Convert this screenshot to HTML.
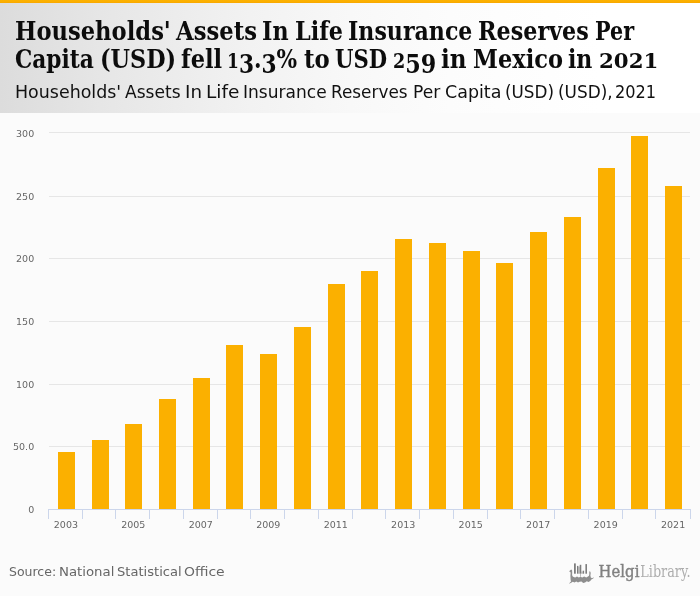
<!DOCTYPE html>
<html lang="en">
<head>
<meta charset="utf-8">
<title>Households' Assets In Life Insurance Reserves Per Capita (USD) - Mexico</title>
<style>
html,body{margin:0;padding:0;}
body{width:700px;height:596px;overflow:hidden;background:#fbfbfb;position:relative;font-family:"DejaVu Sans","Liberation Sans",sans-serif;}
.topbar{position:absolute;left:0;top:0;width:700px;height:3px;background:linear-gradient(#fcb100 0,#fbaf00 1.6px,#f8a600 3px);}
.header{position:absolute;left:0;top:3px;width:700px;height:110px;background:linear-gradient(90deg,#dcdcdc 0px,#e1e1e1 50px,#e6e6e6 100px,#eaeaea 150px,#eeeeee 200px,#f2f2f2 250px,#f5f5f5 300px,#f8f8f8 350px,#fafafa 400px,#fcfcfc 450px,#fdfdfd 500px,#fefefe 550px,#ffffff 600px,#ffffff 650px);}
.ln{position:absolute;left:0;margin:0;width:700px;white-space:nowrap;font-weight:normal;}
.ln span{position:absolute;top:0;transform-origin:0 0;white-space:pre;}
.title{font-family:"DejaVu Serif Condensed","DejaVu Serif","Liberation Serif",serif;font-weight:bold;font-size:26px;line-height:30px;height:30px;color:#0c0c0c;}
.title i{font-style:normal;}
.title i.o{font-size:0.79em;}
.title i.d{position:relative;top:0.177em;}
.t1{top:16px;}
.t2{top:44px;}
.subtitle{top:81px;font-size:17.3px;line-height:22px;height:22px;color:#111;}
.chart{position:absolute;left:0;top:0;}
.source{top:563px;font-size:13px;line-height:18px;height:18px;color:#666;}
.logo{position:absolute;left:560px;top:555px;width:140px;height:41px;}
</style>
</head>
<body>
<div class="header"></div>
<div class="topbar"></div>
<h1 class="ln title t1" id="t1"><span style="left:14.81px;transform:scaleX(0.9681)">Households'</span> <span style="left:176.32px;transform:scaleX(0.9709)">Assets</span> <span style="left:262.33px;transform:scaleX(0.9486)">In</span> <span style="left:294.92px;transform:scaleX(0.9558)">Life</span> <span style="left:347.74px;transform:scaleX(0.9443)">Insurance</span> <span style="left:477.83px;transform:scaleX(0.9523)">Reserves</span> <span style="left:595.20px;transform:scaleX(0.8855)">Per</span></h1>
<h1 class="ln title t2" id="t2"><span style="left:14.77px;transform:scaleX(0.9283)">Capita</span> <span style="left:99.55px;transform:scaleX(0.9555)">(USD)</span> <span style="left:181.38px;transform:scaleX(0.9644)">fell</span> <span style="left:226.82px;transform:scaleX(0.9260)"><i class="o">1</i><i class="d">3</i>.<i class="d">3</i>%</span> <span style="left:303.71px;transform:scaleX(0.9760)">to</span> <span style="left:335.32px;transform:scaleX(0.9056)">USD</span> <span style="left:393.31px;transform:scaleX(0.9525)"><i class="o">2</i><i class="d">59</i></span> <span style="left:441.26px;transform:scaleX(0.9868)">in</span> <span style="left:472.74px;transform:scaleX(0.9628)">Mexico</span> <span style="left:568.39px;transform:scaleX(0.9421)">in</span> <span style="left:598.76px;transform:scaleX(1.1535)"><i class="o">2021</i></span></h1>
<h2 class="ln subtitle" id="sub"><span style="left:14.83px;transform:scaleX(1.0091)">Households'</span> <span style="left:125.28px;transform:scaleX(0.9882)">Assets</span> <span style="left:185.15px;transform:scaleX(1.0563)">In</span> <span style="left:205.72px;transform:scaleX(1.0737)">Life</span> <span style="left:243.27px;transform:scaleX(0.9863)">Insurance</span> <span style="left:331.29px;transform:scaleX(0.9753)">Reserves</span> <span style="left:412.57px;transform:scaleX(0.9903)">Per</span> <span style="left:444.59px;transform:scaleX(1.0103)">Capita</span> <span style="left:505.44px;transform:scaleX(0.9731)">(USD)</span> <span style="left:557.53px;transform:scaleX(0.9782)">(USD),</span> <span style="left:615.23px;transform:scaleX(0.9337)">2021</span></h2>
<svg class="chart" width="700" height="596" viewBox="0 0 700 596">
<g shape-rendering="crispEdges">
<rect x="49" y="132" width="641" height="1" fill="#e6e6e6"/>
<rect x="49" y="196" width="641" height="1" fill="#e6e6e6"/>
<rect x="49" y="258" width="641" height="1" fill="#e6e6e6"/>
<rect x="49" y="321" width="641" height="1" fill="#e6e6e6"/>
<rect x="49" y="384" width="641" height="1" fill="#e6e6e6"/>
<rect x="49" y="446" width="641" height="1" fill="#e6e6e6"/>
<rect x="58" y="452" width="17" height="57" fill="#fbb000"/>
<rect x="92" y="440" width="17" height="69" fill="#fbb000"/>
<rect x="125" y="424" width="17" height="85" fill="#fbb000"/>
<rect x="159" y="399" width="17" height="110" fill="#fbb000"/>
<rect x="193" y="378" width="17" height="131" fill="#fbb000"/>
<rect x="226" y="345" width="17" height="164" fill="#fbb000"/>
<rect x="260" y="354" width="17" height="155" fill="#fbb000"/>
<rect x="294" y="327" width="17" height="182" fill="#fbb000"/>
<rect x="328" y="284" width="17" height="225" fill="#fbb000"/>
<rect x="361" y="271" width="17" height="238" fill="#fbb000"/>
<rect x="395" y="239" width="17" height="270" fill="#fbb000"/>
<rect x="429" y="243" width="17" height="266" fill="#fbb000"/>
<rect x="463" y="251" width="17" height="258" fill="#fbb000"/>
<rect x="496" y="263" width="17" height="246" fill="#fbb000"/>
<rect x="530" y="232" width="17" height="277" fill="#fbb000"/>
<rect x="564" y="217" width="17" height="292" fill="#fbb000"/>
<rect x="598" y="168" width="17" height="341" fill="#fbb000"/>
<rect x="631" y="136" width="17" height="373" fill="#fbb000"/>
<rect x="665" y="186" width="17" height="323" fill="#fbb000"/>
<rect x="48" y="509" width="643" height="1" fill="#ccd6eb"/>
<rect x="48" y="509" width="1" height="10" fill="#ccd6eb"/>
<rect x="82" y="509" width="1" height="10" fill="#ccd6eb"/>
<rect x="115" y="509" width="1" height="10" fill="#ccd6eb"/>
<rect x="149" y="509" width="1" height="10" fill="#ccd6eb"/>
<rect x="183" y="509" width="1" height="10" fill="#ccd6eb"/>
<rect x="217" y="509" width="1" height="10" fill="#ccd6eb"/>
<rect x="250" y="509" width="1" height="10" fill="#ccd6eb"/>
<rect x="284" y="509" width="1" height="10" fill="#ccd6eb"/>
<rect x="318" y="509" width="1" height="10" fill="#ccd6eb"/>
<rect x="352" y="509" width="1" height="10" fill="#ccd6eb"/>
<rect x="385" y="509" width="1" height="10" fill="#ccd6eb"/>
<rect x="419" y="509" width="1" height="10" fill="#ccd6eb"/>
<rect x="453" y="509" width="1" height="10" fill="#ccd6eb"/>
<rect x="487" y="509" width="1" height="10" fill="#ccd6eb"/>
<rect x="520" y="509" width="1" height="10" fill="#ccd6eb"/>
<rect x="554" y="509" width="1" height="10" fill="#ccd6eb"/>
<rect x="588" y="509" width="1" height="10" fill="#ccd6eb"/>
<rect x="622" y="509" width="1" height="10" fill="#ccd6eb"/>
<rect x="655" y="509" width="1" height="10" fill="#ccd6eb"/>
<rect x="690" y="509" width="1" height="10" fill="#ccd6eb"/>
</g>
<g font-family="'DejaVu Sans', 'Liberation Sans', sans-serif" font-size="9.5" fill="#666">
<text x="34.2" y="137" text-anchor="end">300</text>
<text x="34.2" y="200" text-anchor="end">250</text>
<text x="34.2" y="262" text-anchor="end">200</text>
<text x="34.2" y="325" text-anchor="end">150</text>
<text x="34.2" y="388" text-anchor="end">100</text>
<text x="34.2" y="450" text-anchor="end">50.0</text>
<text x="34.2" y="513" text-anchor="end">0</text>
<text x="65.9" y="528" text-anchor="middle">2003</text>
<text x="133.3" y="528" text-anchor="middle">2005</text>
<text x="200.8" y="528" text-anchor="middle">2007</text>
<text x="268.3" y="528" text-anchor="middle">2009</text>
<text x="335.8" y="528" text-anchor="middle">2011</text>
<text x="403.2" y="528" text-anchor="middle">2013</text>
<text x="470.7" y="528" text-anchor="middle">2015</text>
<text x="538.2" y="528" text-anchor="middle">2017</text>
<text x="605.7" y="528" text-anchor="middle">2019</text>
<text x="673.1" y="528" text-anchor="middle">2021</text>
</g>
</svg>
<div class="ln source" id="src"><span style="left:9.06px;transform:scaleX(0.9609)">Source:</span> <span style="left:58.62px;transform:scaleX(1.0222)">National</span> <span style="left:116.82px;transform:scaleX(1.0060)">Statistical</span> <span style="left:184.30px;transform:scaleX(1.0712)">Office</span></div>
<svg class="logo" width="140" height="41" viewBox="560 555 140 41">
<g fill="#7d7d7d">
<rect x="574" y="563.4" width="1.8" height="10.3"/>
<rect x="577" y="565.9" width="1.3" height="7.8"/>
<rect x="578.3" y="566.6" width="1.4" height="7.1" opacity="0.55"/>
<rect x="579.7" y="564.8" width="1.6" height="8.9"/>
<rect x="580.2" y="573.7" width="0.6" height="3" opacity="0.8"/>
<rect x="581.3" y="571.6" width="1.4" height="2.1" opacity="0.45"/>
<rect x="582.7" y="570.7" width="1.4" height="3"/>
<rect x="585.4" y="564.1" width="1.6" height="9.6"/>
<path fill="#8e8e8e" d="M569.1 571.6 L570.2 570.2 L571.2 569.5 L572.1 570.2 L572.2 572.5 L572.1 575 Q572.2 576.6 573.6 576.9 L575.2 577.6 L577 576.6 L578.8 577.5 L580.5 576.8 L582.2 577.6 L584.2 576.6 L586.2 577.5 L588 576.6 Q589.3 576.2 589.3 574.5 L589.3 571.3 L590.4 571.8 L590.7 573.2 L590.4 575.5 L590.8 577.6 L592 578.2 L593.9 577.2 L593.2 578.6 L591.4 579.6 L590.2 581 L588.5 582 L586.8 581.2 L585 582.6 L583.2 582.9 L581.5 581.6 L579.6 581.8 L578 582.6 L576.3 581.6 L574.5 582.4 L572.8 581.8 L571.2 582.8 L569.2 583.8 L569.5 583 L571 581.6 L570.6 579.5 L570.4 576 L570.6 573 L570.4 572 Z"/>
</g>
<text x="598.6" y="577.2" font-family="'DejaVu Serif','Liberation Serif',serif" font-size="17" fill="#808080" stroke="#808080" stroke-width="0.4" textLength="40.8" lengthAdjust="spacingAndGlyphs">Helgi</text>
<text x="640.3" y="577.2" font-family="'DejaVu Serif','Liberation Serif',serif" font-size="17" fill="#adadad" textLength="50.2" lengthAdjust="spacingAndGlyphs">Library.</text>
</svg>
</body>
</html>
